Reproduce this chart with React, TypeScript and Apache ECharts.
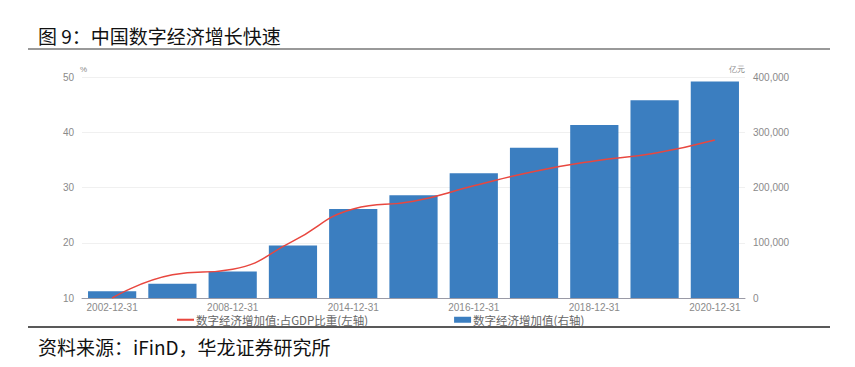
import React, { useEffect, useRef } from "react";
import * as echarts from "echarts";

const categories = ["2002-12-31","2005-12-31","2008-12-31","2011-12-31","2014-12-31","2015-12-31","2016-12-31","2017-12-31","2018-12-31","2019-12-31","2020-12-31"];
const valueAdded = [12000, 26000, 48000, 95000, 161000, 186000, 226000, 272000, 313000, 358000, 392000];
const gdpShare = [10.0, 14.2, 15.2, 20.3, 26.1, 27.5, 30.3, 32.9, 34.8, 36.2, 38.6];
const leftTicks = { min: 10, max: 50, interval: 10 };
const rightTicks = { min: 0, max: 400000, interval: 100000 };

const titleText = "图 9：中国数字经济增长快速";
const sourceText = "资料来源：iFinD，华龙证券研究所";
const lineName = "数字经济增加值:占GDP比重(左轴)";
const barName = "数字经济增加值(右轴)";

export default function App() {
  const ref = useRef<HTMLDivElement>(null);
  useEffect(() => {
    if (!ref.current) return;
    const chart = echarts.init(ref.current, null, { renderer: "svg" });
    const axisFont = { color: "#8a8a8a", fontSize: 10, fontFamily: "Liberation Sans, Arial, sans-serif" };
    chart.setOption({
      animation: false,
      backgroundColor: "#ffffff",
      grid: { left: 82, right: 110, top: 77, bottom: 69 },
      legend: {
        left: 172,
        top: 309,
        itemGap: 86,
        itemWidth: 17,
        itemHeight: 6,
        textStyle: { color: "#666", fontSize: 11.5, fontFamily: "Noto Sans CJK SC, sans-serif", padding: [0, 0, 0, -3] },
        data: [
          { name: lineName, icon: "path://M0,0 L18,0 L18,2.2 L0,2.2 Z", itemStyle: { color: "#e8473f" } },
          { name: barName, icon: "rect" },
        ],
      },
      xAxis: {
        type: "category",
        data: categories,
        axisLine: { lineStyle: { color: "#9a9aa6", width: 1 } },
        axisTick: { show: false },
        axisLabel: { ...axisFont, interval: 1, margin: 4 },
      },
      yAxis: [
        {
          type: "value",
          ...leftTicks,
          name: "%",
          nameGap: 4,
          nameTextStyle: { ...axisFont, fontSize: 8, align: "left", padding: [0, 0, 0, -2] },
          axisLine: { show: false },
          axisTick: { show: false },
          axisLabel: { ...axisFont, margin: 8 },
          splitLine: { lineStyle: { color: "#f0f0f0" } },
        },
        {
          type: "value",
          ...rightTicks,
          name: "亿元",
          nameGap: 4,
          nameTextStyle: { ...axisFont, fontSize: 8, align: "right", padding: [0, 0, 0, 0] },
          axisLine: { show: false },
          axisTick: { show: false },
          axisLabel: {
            ...axisFont,
            margin: 8,
            formatter: (v: number) => v.toLocaleString("en-US"),
          },
          splitLine: { show: false },
        },
      ],
      series: [
        {
          name: barName,
          type: "bar",
          yAxisIndex: 1,
          data: valueAdded,
          barCategoryGap: "20%",
          itemStyle: { color: "#3b7ec0" },
        },
        {
          name: lineName,
          type: "line",
          yAxisIndex: 0,
          data: gdpShare,
          smooth: true,
          showSymbol: false,
          lineStyle: { color: "#e8473f", width: 1.5 },
          itemStyle: { color: "#e8473f" },
          z: 5,
        },
      ],
      graphic: [
        {
          type: "text",
          left: 38,
          top: 26,
          style: { text: titleText, fontSize: 19, fill: "#111", fontFamily: "Noto Sans CJK SC, sans-serif" },
        },
        {
          type: "line",
          shape: { x1: 28, y1: 49, x2: 830, y2: 49 },
          style: { stroke: "#777", lineWidth: 1.5 },
        },
        {
          type: "line",
          shape: { x1: 28, y1: 327, x2: 830, y2: 327 },
          style: { stroke: "#222", lineWidth: 1.5 },
        },
        {
          type: "text",
          left: 38,
          top: 337,
          style: { text: sourceText, fontSize: 19, fill: "#111", fontFamily: "Noto Sans CJK SC, sans-serif" },
        },
      ],
    });
    return () => chart.dispose();
  }, []);
  return <div ref={ref} style={{ position: "fixed", left: 0, top: 0, width: 855, height: 367 }} />;
}
